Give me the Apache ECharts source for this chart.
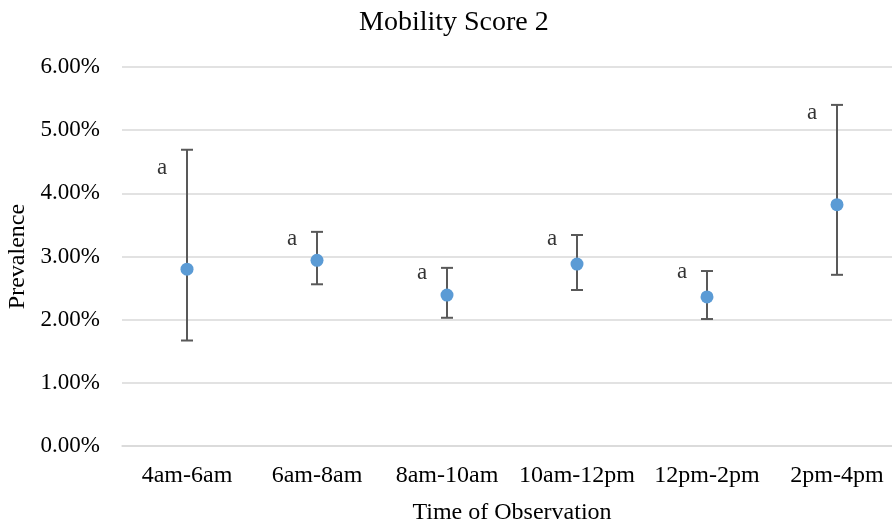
<!DOCTYPE html>
<html><head><meta charset="utf-8">
<script src="https://cdn.jsdelivr.net/npm/echarts@6/dist/echarts.min.js"></script>
<style>html,body{margin:0;padding:0;background:#fff}#c{width:892px;height:524px}</style>
</head><body><div id="c"></div>
<script>
const categories = ['4am-6am','6am-8am','8am-10am','10am-12pm','12pm-2pm','2pm-4pm'];
const prevalence = [2.80, 2.94, 2.39, 2.88, 2.36, 3.82];
const errLow = [1.67, 2.56, 2.03, 2.47, 2.01, 2.71];
const errHigh = [4.69, 3.39, 2.82, 3.34, 2.77, 5.40];
const letters = ['a','a','a','a','a','a'];
const letterY = [4.40, 3.28, 2.74, 3.28, 2.75, 5.27];
const yTicks = [0,1,2,3,4,5,6];

const font = 'Liberation Serif';
const chart = echarts.init(document.getElementById('c'));
chart.setOption({
  animation:false,
  title:{text:'Mobility Score 2',left:354,top:4,textStyle:{fontFamily:font,fontSize:28,fontWeight:'normal',color:'#000'}},
  grid:{left:122,top:67,width:780,bottom:78,outerBoundsMode:'none',containLabel:false},
  xAxis:{type:'category',data:categories,
    axisLine:{lineStyle:{color:'#d9d9d9',width:1.5}},axisTick:{show:false},
    axisLabel:{fontFamily:font,fontSize:24,color:'#000',margin:18,interval:0,hideOverlap:false},
    name:'Time of Observation',nameLocation:'middle',nameGap:55,
    nameTextStyle:{fontFamily:font,fontSize:24,color:'#000'}},
  yAxis:{type:'value',min:0,max:6,interval:1,
    axisLine:{show:false},axisTick:{show:false},
    splitLine:{lineStyle:{color:'#d9d9d9',width:1.5}},
    axisLabel:{fontFamily:font,fontSize:23,color:'#000',margin:22,formatter:v=>v.toFixed(2)+'%'},
    name:'Prevalence',nameLocation:'middle',nameGap:90,
    nameTextStyle:{fontFamily:font,fontSize:24,color:'#000'}},
  series:[
    {type:'custom',z:2,
      data:categories.map((c,i)=>[i,errLow[i],errHigh[i]]),
      renderItem:function(params,api){
        const lo=api.coord([api.value(0),api.value(1)]);
        const hi=api.coord([api.value(0),api.value(2)]);
        const w=6;
        const st={stroke:'#595959',lineWidth:2};
        return {type:'group',children:[
          {type:'line',shape:{x1:hi[0],y1:hi[1],x2:lo[0],y2:lo[1]},style:st},
          {type:'line',shape:{x1:hi[0]-w,y1:hi[1],x2:hi[0]+w,y2:hi[1]},style:st},
          {type:'line',shape:{x1:lo[0]-w,y1:lo[1],x2:lo[0]+w,y2:lo[1]},style:st}
        ]};
      }},
    {type:'scatter',z:3,data:prevalence,symbolSize:13,itemStyle:{color:'#5B9BD5',opacity:1}},
    {type:'scatter',z:4,data:letterY.map((v,i)=>({value:[i,v],label:{formatter:letters[i]}})),
      symbolSize:0,silent:true,
      label:{show:true,position:'inside',offset:[-25,0],fontFamily:font,fontSize:23,color:'#000'}}
  ]
});
</script></body></html>
